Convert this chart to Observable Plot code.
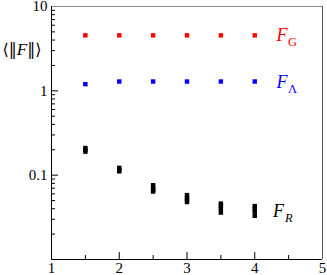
<!DOCTYPE html>
<html><head><meta charset="utf-8">
<script src="https://cdn.jsdelivr.net/npm/d3@7"></script>
<script src="https://cdn.jsdelivr.net/npm/@observablehq/plot@0.6"></script>
<style>html,body{margin:0;padding:0;background:#fff;} svg{display:block}</style>
</head><body><div id="chart"></div>
<script>
const xValues = [1.5, 2, 2.5, 3, 3.5, 4];
const fG = [4.55, 4.55, 4.55, 4.55, 4.55, 4.55];
const fLambda = [1.2, 1.29, 1.29, 1.29, 1.29, 1.29];
const fR = [
  [0.21, 0.20, 0.19],
  [0.122, 0.116, 0.111],
  [0.076, 0.071, 0.067, 0.064],
  [0.058, 0.054, 0.051, 0.048],
  [0.046, 0.043, 0.040, 0.036],
  [0.043, 0.040, 0.037, 0.033]
];
const xMajorTicks = [1, 2, 3, 4, 5];
const xMinorTicks = [1.5, 2.5, 3.5, 4.5];
const yMajorTicks = [0.1, 1, 10];
const yMinorTicks = [0.02, 0.03, 0.04, 0.05, 0.06, 0.07, 0.08, 0.09,
                     0.2, 0.3, 0.4, 0.5, 0.6, 0.7, 0.8, 0.9,
                     2, 3, 4, 5, 6, 7, 8, 9];
const yLabel = "⟨‖F‖⟩";
const labelMain = ["F", "F", "F"];
const labelSub = ["G", "Λ", "R"];
const labelColor = ["#ff0000", "#0000ff", "#000000"];
const labelX = [4.32, 4.32, 4.27];
const labelY = [3.85, 1.077, 0.0323];
const labelSubItalic = [false, false, true];

const gRows = xValues.map((x, i) => ({x, y: fG[i]}));
const lRows = xValues.map((x, i) => ({x, y: fLambda[i]}));
const rRows = xValues.flatMap((x, i) => fR[i].map(y => ({x, y})));
const labels = labelMain.map((m, i) => ({m, s: labelSub[i], c: labelColor[i], x: labelX[i], y: labelY[i], it: labelSubItalic[i]}));

const font = "Liberation Serif";
const chart = Plot.plot({
  width: 327, height: 275,
  marginLeft: 51, marginRight: 5, marginTop: 6, marginBottom: 16,
  style: {fontFamily: font, fontSize: "15px", color: "black", background: "white"},
  x: {domain: [1, 5]},
  y: {type: "log", domain: [0.01, 10]},
  marks: [
    Plot.axisX(xMajorTicks, {tickSize: -7, tickPadding: 10, tickFormat: d => String(d), fontSize: 15, label: null}),
    Plot.axisX(xMinorTicks, {tickSize: -4, tickFormat: () => "", label: null}),
    Plot.axisY(yMajorTicks, {tickSize: -7, tickPadding: 11, tickFormat: d => String(d), fontSize: 15, label: null}),
    Plot.axisY(yMinorTicks, {tickSize: -4, tickFormat: () => "", label: null}),
    Plot.ruleY([10], {stroke: "#888"}),
    Plot.ruleX([5], {stroke: "#555"}),
    Plot.ruleX([1], {stroke: "black"}),
    Plot.ruleY([0.01], {stroke: "black"}),
    Plot.dot(gRows, {x: "x", y: "y", symbol: "square", r: 2.5, fill: "#ff0000", stroke: null}),
    Plot.dot(lRows, {x: "x", y: "y", symbol: "square", r: 2.5, fill: "#0000ff", stroke: null}),
    Plot.dot(rRows, {x: "x", y: "y", symbol: "square", r: 2.5, fill: "#000000", stroke: null}),
    Plot.text(labels, {x: "x", y: "y", text: "m", fill: "c", textAnchor: "start", lineAnchor: "bottom", fontSize: 18, fontStyle: "italic"}),
    Plot.text(labels, {filter: d => !d.it, x: "x", y: "y", text: "s", fill: "c", textAnchor: "start", lineAnchor: "bottom", fontSize: 12.5, dx: 11.5, dy: 5}),
    Plot.text(labels, {filter: d => d.it, x: "x", y: "y", text: "s", fill: "c", textAnchor: "start", lineAnchor: "bottom", fontSize: 12.5, dx: 12, dy: 5, fontStyle: "italic"}),
    Plot.text([yLabel], {frameAnchor: "top-left", text: d => d, dx: -49, dy: 43, textAnchor: "start", lineAnchor: "middle", fontSize: 16, fontFamily: "DejaVu Serif"})
  ]
});
document.getElementById("chart").appendChild(chart);
d3.select(chart).selectAll("text").each(function() {
  if (this.textContent === yLabel) {
    const t = d3.select(this);
    t.text(null);
    t.append("tspan").text("⟨‖");
    t.append("tspan").attr("font-style", "italic").attr("font-family", font).attr("font-size", 17).text("F");
    t.append("tspan").text("‖⟩");
  }
});
</script>
</body></html>
